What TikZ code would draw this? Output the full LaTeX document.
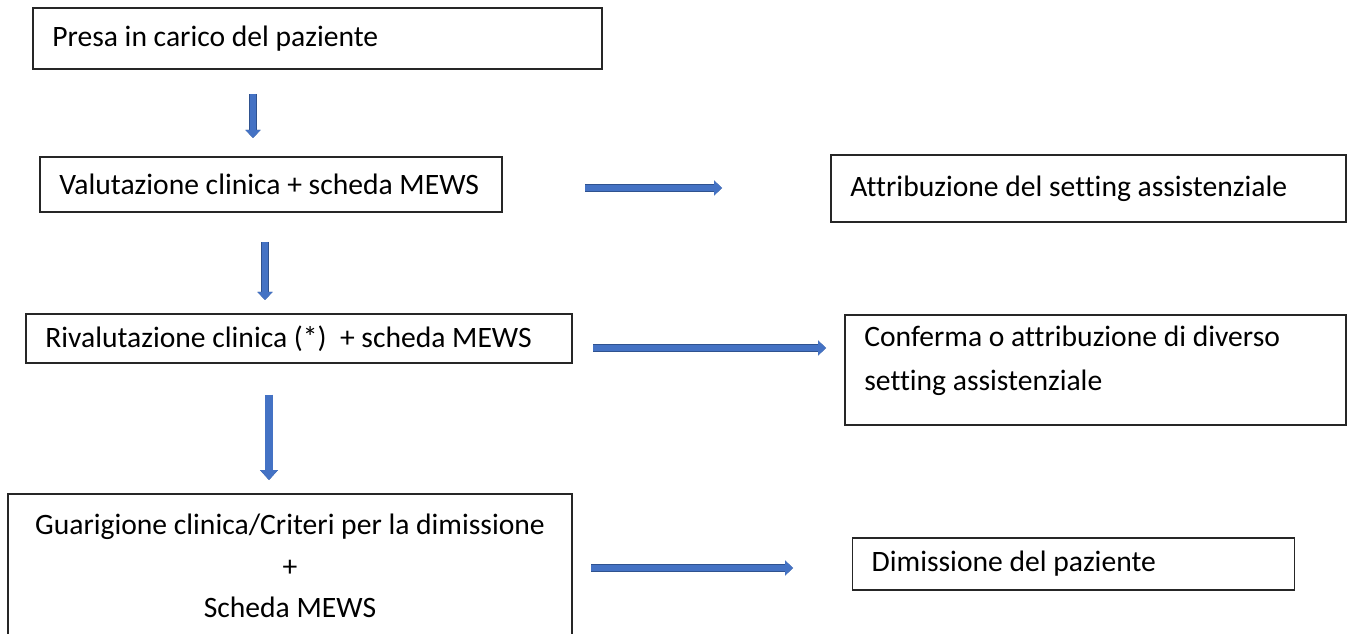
\documentclass[tikz,border=0pt]{standalone}
\usepackage{fontspec}
\setmainfont{Carlito}[Ligatures=NoCommon]
\usepackage{xcolor}
\usepackage{tikz}
\usetikzlibrary{arrows.meta,positioning}
\definecolor{arrowblue}{HTML}{4472C4}
\definecolor{arrowedge}{HTML}{2F528F}
\newcommand{\flowfont}{\fontsize{22.2}{31}\selectfont}
\tikzset{
  stepbox/.style={draw=black!85,line width=0.8pt,rectangle,inner ysep=0pt,font=\flowfont},
  leftbox/.style={stepbox,align=flush left,inner xsep=14.5pt},
  fatarrow/.style={
    draw=arrowblue,line width=5pt,
    -{Triangle[width=11.25pt,length=6pt,line width=0pt]},
    preaction={draw=arrowedge,line width=5.6pt,-{Triangle[width=11.25pt,length=6pt,line width=0.6pt]}}
  },
  widearrow/.style={
    draw=arrowblue,line width=5.6pt,
    -{Triangle[width=13.5pt,length=7.5pt,line width=0pt]},
    preaction={draw=arrowedge,line width=6.2pt,-{Triangle[width=13.5pt,length=7.5pt,line width=0.6pt]}}
  },
  flow/.style={x=0.75pt,y=-0.75pt}
}
\begin{document}
\begin{tikzpicture}[flow]
  \useasboundingbox (0,0) rectangle (1349,634);
  \clip (0,0) rectangle (1349,634);

  % boxes
  \node (presa) [leftbox,text width=397.75pt,minimum height=45.75pt] at (317.5,38.5) {Presa in carico del paziente};
  \node (valuta) [leftbox,text width=317.5pt,minimum height=41.25pt] at (271,184.5) {Valutazione clinica + scheda MEWS};
  \node (attrib) [leftbox,text width=357.25pt,minimum height=50.25pt] at (1088.5,188.5) {Attribuzione del setting assistenziale};
  \node (rivaluta) [leftbox,text width=380.5pt,minimum height=36.75pt] at (299,338.5) {Rivalutazione clinica (*)\ \ + scheda MEWS};
  \node (conferma) [leftbox,font=\fontsize{22.2}{32.5}\selectfont,text height=24pt,text depth=58.5pt,text width=346.75pt] at (1095.5,370) {Conferma o attribuzione di diverso\\setting assistenziale};
  \node (guarigione) [stepbox,align=center,minimum width=423pt,minimum height=108pt] at (290,566) {Guarigione clinica/Criteri per la dimissione\\+\\Scheda MEWS};
  \node (dimiss) [leftbox,text width=302.75pt,minimum height=39pt] at (1073.5,564) {Dimissione del paziente};

  % arrow ends
  \coordinate (a1) at (253,94);  \coordinate (a1e) at (253,138);
  \coordinate (a2) at (265,242); \coordinate (a2e) at (265,300);
  \coordinate (a3) at (269,395); \coordinate (a3e) at (269,480);
  \coordinate (h1) at (585,188); \coordinate (h1e) at (722,188);
  \coordinate (h2) at (593,348); \coordinate (h2e) at (826,348);
  \coordinate (h3) at (591,568); \coordinate (h3e) at (793,568);

  \draw[fatarrow] (a1) -- (a1e);
  \draw[fatarrow] (a2) -- (a2e);
  \draw[widearrow] (a3) -- (a3e);
  \draw[fatarrow] (h1) -- (h1e);
  \draw[fatarrow] (h2) -- (h2e);
  \draw[fatarrow] (h3) -- (h3e);
\end{tikzpicture}
\end{document}
